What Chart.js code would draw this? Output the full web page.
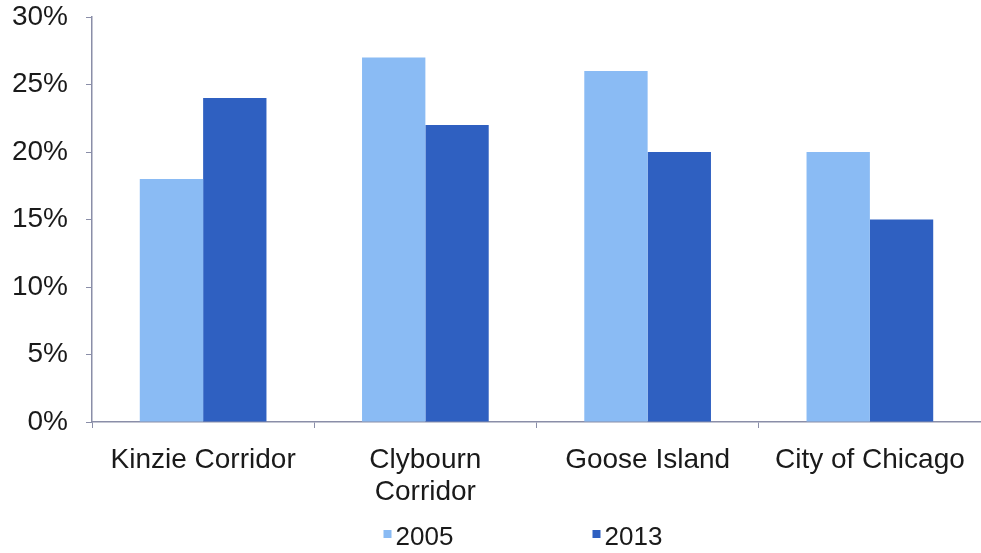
<!DOCTYPE html>
<html>
<head>
<meta charset="utf-8">
<script src="https://cdn.jsdelivr.net/npm/chart.js@4/dist/chart.umd.min.js"></script>
<style>
  html, body { margin: 0; padding: 0; background: #ffffff; }
  #wrap { width: 981px; height: 553px; }
</style>
</head>
<body>
<div id="wrap"><canvas id="chart"></canvas></div>
<script>
// Share of something by area, 2005 vs 2013 (percent)
const categories = ['Kinzie Corridor', ['Clybourn', 'Corridor'], 'Goose Island', 'City of Chicago'];
const seriesNames = ['2005', '2013'];
const values2005 = [18, 27, 26, 20];
const values2013 = [24, 22, 20, 15];
const yTicks = [0, 5, 10, 15, 20, 25, 30];

const LIGHT = '#8abbf4';
const DARK = '#2f60c1';
const AXIS = '#8a8ea8';
const TEXT = '#1a1a1a';
const FONT = "'Liberation Sans', Arial, Helvetica, sans-serif";

// Simple legend under the plot, items spaced wide apart like the original
const bottomLegend = {
    id: 'bottomLegend',
    afterDraw(chart) {
        const ctx = chart.ctx;
        const area = chart.chartArea;
        const center = (area.left + area.right) / 2;
        const y = chart.height - 15;
        ctx.save();
        ctx.font = '26px ' + FONT;
        ctx.textBaseline = 'middle';
        ctx.textAlign = 'left';
        chart.data.datasets.forEach((ds, i) => {
            const x = center - 153 + i * 209;
            ctx.fillStyle = ds.backgroundColor;
            ctx.fillRect(x, y - 8, 8, 8);
            ctx.fillStyle = TEXT;
            ctx.fillText(ds.label, x + 12, y);
        });
        ctx.restore();
    }
};

function initChart() {
    const ctx = document.getElementById('chart').getContext('2d');
    Chart.defaults.font.family = FONT;
    Chart.defaults.color = TEXT;

    new Chart(ctx, {
        type: 'bar',
        data: {
            labels: categories,
            datasets: [
                {
                    label: seriesNames[0],
                    data: values2005,
                    backgroundColor: LIGHT,
                    borderWidth: 0,
                    barPercentage: 1.0,
                    categoryPercentage: 0.57
                },
                {
                    label: seriesNames[1],
                    data: values2013,
                    backgroundColor: DARK,
                    borderWidth: 0,
                    barPercentage: 1.0,
                    categoryPercentage: 0.57
                }
            ]
        },
        options: {
            responsive: true,
            maintainAspectRatio: false,
            animation: false,
            layout: {
                padding: { top: 17, right: 0, bottom: 36, left: 0 }
            },
            plugins: {
                legend: { display: false },
                tooltip: { enabled: false }
            },
            scales: {
                x: {
                    grid: {
                        display: true,
                        drawOnChartArea: false,
                        drawTicks: true,
                        tickLength: 6,
                        color: AXIS,
                        offset: true
                    },
                    border: { display: true, color: AXIS, width: 1.5 },
                    ticks: {
                        color: TEXT,
                        font: { size: 28, lineHeight: 1.15 },
                        padding: 16,
                        maxRotation: 0,
                        autoSkip: false
                    },
                    afterFit(scale) { scale.height = 95; }
                },
                y: {
                    min: 0,
                    max: 30,
                    afterBuildTicks(scale) {
                        scale.ticks = yTicks.map(v => ({ value: v }));
                    },
                    grid: {
                        display: true,
                        drawOnChartArea: false,
                        drawTicks: true,
                        tickLength: 6,
                        color: AXIS
                    },
                    border: { display: true, color: AXIS, width: 1.5 },
                    ticks: {
                        color: TEXT,
                        font: { size: 28 },
                        padding: 18,
                        callback: function(value) {
                            return value + '%';
                        }
                    },
                    afterFit(scale) {
                        scale.width = 92;
                        scale.paddingTop = 0;
                        scale.paddingBottom = 0;
                    }
                }
            }
        },
        plugins: [bottomLegend]
    });
}

document.addEventListener('DOMContentLoaded', initChart);
</script>
</body>
</html>
